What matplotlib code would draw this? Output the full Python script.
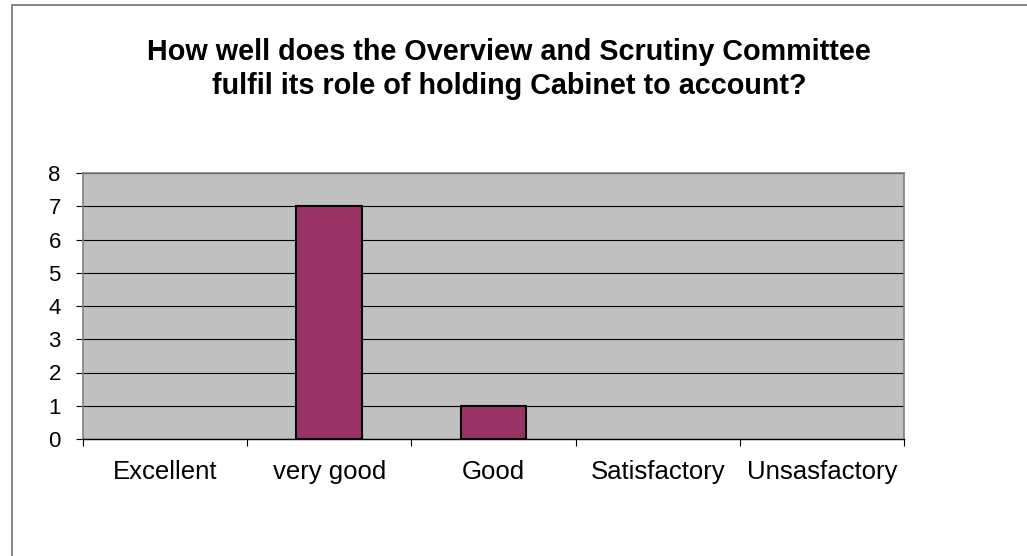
import matplotlib.pyplot as plt
from matplotlib.patches import Rectangle

plt.rcParams['font.family'] = ['Liberation Sans', 'DejaVu Sans']

categories = ['Excellent', 'very good', 'Good', 'Satisfactory', 'Unsasfactory']
counts = [0, 7, 1, 0, 0]
y_ticks = [0, 1, 2, 3, 4, 5, 6, 7, 8]
title = 'How well does the Overview and Scrutiny Committee\nfulfil its role of holding Cabinet to account?'

fig = plt.figure(figsize=(10.27, 5.56), dpi=100)
fig.patch.set_facecolor('white')

# chart border (runs off the right and bottom edges)
fig.add_artist(Rectangle((11.5 / 1027, -0.1), 1.2, 1 - 4.5 / 556 + 0.1,
                         transform=fig.transFigure, fill=False,
                         edgecolor='#707070', linewidth=1.2))

ax = fig.add_axes([83 / 1027, 1 - 439 / 556, (904 - 83) / 1027, (439 - 173) / 556])
ax.set_facecolor('#C0C0C0')

x = list(range(len(categories)))
# empty categories get no outline, so nothing shows for a zero count
edge_widths = [1.5 if c > 0 else 0 for c in counts]
ax.bar(x, counts, width=0.4, color='#993366', edgecolor='black',
       linewidth=edge_widths, zorder=3)

ax.set_xlim(-0.5, len(categories) - 0.5)
ax.set_ylim(0, 8)
ax.set_yticks(y_ticks)
ax.yaxis.grid(True, color='black', linewidth=0.8, zorder=1)
ax.set_axisbelow(True)

# boundary tick marks, labels centred between them
ax.set_xticks([i - 0.5 for i in range(len(categories) + 1)])
ax.set_xticklabels([])
ax.set_xticks(x, minor=True)
ax.set_xticklabels(categories, minor=True, fontsize=18.5)
ax.tick_params(axis='x', which='major', direction='out', length=5, width=0.8, color='black')
ax.tick_params(axis='x', which='minor', length=0, pad=15)
ax.tick_params(axis='y', direction='out', length=5, width=0.8, color='black', labelsize=16, pad=11)

for side in ['top', 'right', 'left']:
    ax.spines[side].set_color('#808080')
    ax.spines[side].set_linewidth(1.2)
ax.spines['bottom'].set_color('black')
ax.spines['bottom'].set_linewidth(1.0)

fig.text(0.496, 1 - 69 / 556, title, ha='center', va='center', fontsize=20.7,
         fontweight='bold', linespacing=1.3)

fig.savefig('out.png', dpi=100)
